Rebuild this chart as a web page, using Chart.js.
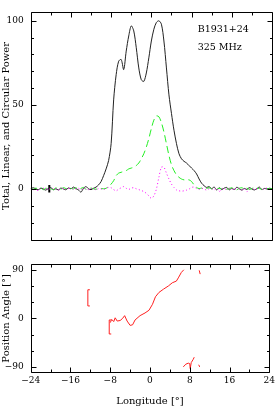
<!DOCTYPE html>
<html>
<head>
<meta charset="utf-8">
<script src="https://cdn.jsdelivr.net/npm/chart.js@4"></script>
<style>
  html, body { margin: 0; padding: 0; background: #fff; }
  #wrap { position: relative; width: 278px; height: 407px; }
  canvas { position: absolute; left: 0; }
  #power-chart { top: 0; }
  #pa-chart { top: 252px; }
</style>
</head>
<body>
<div id="wrap">
  <canvas id="power-chart" width="278" height="252"></canvas>
  <canvas id="pa-chart" width="278" height="155"></canvas>
</div>
<script>
// pulse longitude grid (deg), 0.5 deg bins
const longitude = [
  -24, -23.5, -23, -22.5, -22, -21.5, -21, -20.5,
  -20, -19.5, -19, -18.5, -18, -17.5, -17, -16.5,
  -16, -15.5, -15, -14.5, -14, -13.5, -13, -12.5,
  -12, -11.5, -11, -10.5, -10, -9.5, -9, -8.5,
  -8, -7.5, -7, -6.5, -6, -5.5, -5, -4.5,
  -4, -3.5, -3, -2.5, -2, -1.5, -1, -0.5,
  0, 0.5, 1, 1.5, 2, 2.5, 3, 3.5,
  4, 4.5, 5, 5.5, 6, 6.5, 7, 7.5,
  8, 8.5, 9, 9.5, 10, 10.5, 11, 11.5,
  12, 12.5, 13, 13.5, 14, 14.5, 15, 15.5,
  16, 16.5, 17, 17.5, 18, 18.5, 19, 19.5,
  20, 20.5, 21, 21.5, 22, 22.5, 23, 23.5,
  24
];
const totalPower = [
  0.3, 0.8, 0.2, -0.4, 0.5, 0.1, -0.6, 0.4,
  0.9, -0.3, 0.2, -0.5, 0.6, 0.1, -0.4, 0.7,
  0.2, 1.2, 0.3, -0.5, -1.8, 0.4, 1.5, 0.2,
  -0.3, 0.5, 1.2, 2.5, 4.5, 8, 12, 17,
  27, 53, 68, 76, 77, 71, 82, 91,
  97, 94, 84, 72, 65, 64, 69, 78,
  88, 95, 99, 100, 98, 88, 72, 56,
  45, 35, 27, 21, 18, 16.5, 15.5, 14,
  12.5, 11, 9, 6, 3.5, 2, 1, 1.5,
  0.3, 1.2, -0.5, 0.8, -0.3, 0.6, 1, -0.4,
  0.5, -0.2, 1.1, 0.2, -0.6, 0.4, -0.2, 0.9,
  0.1, -0.5, 0.3, 1.2, -0.3, 0.4, 0.1, 0.5,
  0.2
];
const linearPower = [
  0.4, -0.2, 0.6, 0.1, 0.8, -0.3, 0.5, 0.2,
  0.3, -0.4, 0.7, 0.2, -0.1, 0.9, 0.3, -0.2,
  0.5, 0.1, 0.8, -0.3, 0.4, 1.0, -0.2, 0.3,
  0.6, 0.2, -0.1, 0.5, 0.3, 0.2, 0.5, 1.5,
  3, 5, 8, 9.5, 10, 10.5, 11, 12,
  12.5, 13, 14, 15.5, 18, 21, 25, 30,
  36, 41, 43.5, 43, 39.5, 34, 27, 20,
  14.5, 11, 8.5, 7, 6, 5.5, 5.5, 5.5,
  4.5, 2.5, 1, 0.3, 0.6, -0.2, 0.4, 0.8,
  0.1, 0.5, -0.3, 0.6, 0.2, 0.9, -0.1, 0.4,
  0.7, 0.2, -0.4, 0.5, 0.8, 0.1, 0.6, -0.2,
  0.3, 0.9, 0.2, 0.5, -0.3, 0.6, 0.4, 0.1,
  0.3
];
const circularPower = [
  0.2, -0.5, 0.1, -1.0, 0.3, 0.6, -0.2, 0.4,
  -0.3, 0.5, 0.2, -0.6, 0.1, 0.4, -0.2, 0.3,
  0.6, -0.1, 0.2, 0.5, -0.4, 0.8, 0.1, -0.3,
  0.4, 0.2, -0.5, 0.3, 0.1, -0.2, 0.5, 1,
  0.8, -0.3, -1, 0, 0.8, 1.5, 0.5, -0.2,
  0.6, 0.8, 0.2, -0.3, -0.8, -1.5, -2.5, -4,
  -5.5, -4, 0, 7, 13, 13, 9.5, 6,
  3, 1, -0.5, -1, -1.2, -1, -0.6, 0,
  1, 1.2, 0.4, -0.3, 0.5, 0.1, -0.6, 0.3,
  0.2, -0.4, 0.5, -1.5, 0.3, 0.1, -0.2, 0.6,
  0.1, -0.3, 0.4, 0.2, -0.5, 0.3, -1.5, 0.2,
  0.4, -0.2, 0.1, 0.5, -0.3, 0.2, 0.6, -0.1,
  0.2
];
// off-pulse noise bar on the total power trace
const noiseBarLon = [-20.3, -20.3];
const noiseBarVal = [-2, 2.5];

// position angle track (null = break in the line)
const paLon = [
  -8.0, -7.7, -7.3, -7.0, -6.6, -6.0, -5.5, -5.1, -4.6, -4.0, -3.5, -3.0,
  -2.0, -1.0, -0.2, 0.5, 1.1, 1.8, 2.7, 3.7, 4.5, 5.3, 5.7, 6.3, 6.8,
  null,
  9.9, 10.1,
  null,
  6.7, 7.2, 7.7, 8.0, 8.1, 8.3, 8.7, 8.9,
  null,
  9.8, 10.0
];
const paVal = [
  -8, -2, -6, 1, -5, -4, 0, 5, -5, -13, -12, -3,
  5, 10, 15, 26, 40, 48, 54, 60, 66, 69, 75, 85, 90,
  null,
  89, 82,
  null,
  -90, -85, -83, -84, -93, -82, -76, -72,
  null,
  -86, -90
];
// PA error bars
const paErrLon = [-12.5, -8.2];
const paErrLo = [23, -29];
const paErrHi = [53, -3];

const lonTicks = [-24, -16, -8, 0, 8, 16, 24];
const lonMinorStep = 4;
const powerTicks = [0, 50, 100];
const powerMinorStep = 10;
const paTicks = [-90, 0, 90];
const paMinorStep = 30;

const FAMILY = '"DejaVu Serif", "Liberation Serif", serif';
const FONT = { family: FAMILY, size: 9 };
const TITLE_FONT = { family: FAMILY, size: 10 };
const AXIS_W = 30.7;

function fmt(v) {
  return v < 0 ? '\u2212' + Math.abs(v) : String(v);
}

function pts(xs, ys) {
  return xs.map((x, i) => ({ x: x, y: x === null ? null : ys[i] }));
}

// full box with inward tick marks on all four sides
const frameTicks = {
  id: 'frameTicks',
  afterDatasetsDraw(chart, args, opts) {
    const { ctx, chartArea: a } = chart;
    const xs = chart.scales.x;
    const ys = chart.scales.y;
    const L = Math.round(a.left) + 0.5;
    const R = Math.round(a.right) + 0.5;
    const T = Math.round(a.top) + 0.5;
    const B = Math.round(a.bottom) + 0.5;
    ctx.save();
    ctx.strokeStyle = '#000';
    ctx.lineWidth = 1;
    ctx.beginPath();
    ctx.rect(L, T, R - L, B - T);
    for (let v = xs.min; v <= xs.max + 1e-9; v += opts.xStep) {
      const px = Math.round(xs.getPixelForValue(v)) + 0.5;
      const len = opts.xMajor.includes(v) ? 5 : 3;
      ctx.moveTo(px, B); ctx.lineTo(px, B - len);
      ctx.moveTo(px, T); ctx.lineTo(px, T + len);
    }
    const start = Math.ceil(ys.min / opts.yStep) * opts.yStep;
    for (let v = start; v <= ys.max + 1e-9; v += opts.yStep) {
      const py = Math.round(ys.getPixelForValue(v)) + 0.5;
      const len = opts.yMajor.includes(v) ? 5 : 2.5;
      ctx.moveTo(L, py); ctx.lineTo(L + len, py);
      ctx.moveTo(R, py); ctx.lineTo(R - len, py);
    }
    ctx.stroke();
    if (opts.notes) {
      ctx.fillStyle = '#000';
      ctx.font = '9.5px ' + FAMILY;
      ctx.textBaseline = 'middle';
      ctx.textAlign = 'left';
      opts.notes.forEach(n => ctx.fillText(n.text, a.left + n.dx, a.top + n.dy));
    }
    ctx.restore();
  }
};

function yAxis(min, max, ticks, title) {
  return {
    min: min,
    max: max,
    afterBuildTicks: s => { s.ticks = ticks.map(v => ({ value: v })); },
    afterFit: s => { s.width = AXIS_W; },
    grid: { display: false, drawTicks: false },
    border: { display: false },
    ticks: { padding: 7, font: FONT, color: '#000', callback: v => fmt(v) },
    title: { display: true, text: title, font: TITLE_FONT, color: '#000', padding: 0 }
  };
}

const powerChart = new Chart(document.getElementById('power-chart'), {
  type: 'line',
  data: {
    datasets: [
      { label: 'Circular', data: pts(longitude, circularPower), borderColor: '#ff00ff', borderWidth: 1, borderDash: [1, 2.5] },
      { label: 'Linear', data: pts(longitude, linearPower), borderColor: '#22ee22', borderWidth: 1, borderDash: [7, 4] },
      { label: 'Total', data: pts(longitude, totalPower), borderColor: '#222', borderWidth: 1 },
      { label: 'noise', data: pts(noiseBarLon, noiseBarVal), borderColor: '#000', borderWidth: 2 }
    ]
  },
  options: {
    responsive: false,
    animation: false,
    layout: { padding: { top: 1, right: 6, bottom: 3.7, left: 0 } },
    elements: { point: { radius: 0 }, line: { tension: 0.3 } },
    plugins: {
      legend: { display: false },
      tooltip: { enabled: false },
      frameTicks: {
        xStep: lonMinorStep, xMajor: lonTicks,
        yStep: powerMinorStep, yMajor: powerTicks,
        notes: [{ text: 'B1931+24', dx: 167, dy: 17 }, { text: '325 MHz', dx: 167, dy: 35 }]
      }
    },
    scales: {
      x: { type: 'linear', min: -24, max: 24, display: false },
      y: yAxis(-30, 105, powerTicks, 'Total, Linear, and Circular Power')
    }
  },
  plugins: [frameTicks]
});

const errData = [];
paErrLon.forEach((x, i) => {
  errData.push({ x: x, y: paErrLo[i] }, { x: x, y: paErrHi[i] }, { x: null, y: null });
});

const paChart = new Chart(document.getElementById('pa-chart'), {
  type: 'line',
  data: {
    datasets: [
      { label: 'PA', data: pts(paLon, paVal), borderColor: '#ff2020', borderWidth: 1, spanGaps: false },
      {
        label: 'PA err', data: errData, borderColor: '#ff2020', borderWidth: 1, spanGaps: false,
        pointStyle: 'dash', pointRadius: 2, pointBorderColor: '#ff2020', pointBorderWidth: 1
      }
    ]
  },
  options: {
    responsive: false,
    animation: false,
    layout: { padding: { top: 7.3, right: 6, bottom: 0, left: 0 } },
    elements: { point: { radius: 0 }, line: { tension: 0 } },
    plugins: {
      legend: { display: false },
      tooltip: { enabled: false },
      frameTicks: {
        xStep: lonMinorStep, xMajor: lonTicks,
        yStep: paMinorStep, yMajor: paTicks
      }
    },
    scales: {
      x: {
        type: 'linear', min: -24, max: 24,
        afterBuildTicks: s => { s.ticks = lonTicks.map(v => ({ value: v })); },
        afterFit: s => { s.height = 34.7; },
        grid: { display: false, drawTicks: false },
        border: { display: false },
        ticks: { padding: 3, font: FONT, color: '#000', maxRotation: 0, autoSkip: false, callback: v => fmt(v) },
        title: { display: true, text: 'Longitude [\u00b0]', font: TITLE_FONT, color: '#000', padding: 0 }
      },
      y: yAxis(-100, 100, paTicks, 'Position Angle [\u00b0]')
    }
  },
  plugins: [frameTicks]
});
</script>
</body>
</html>
